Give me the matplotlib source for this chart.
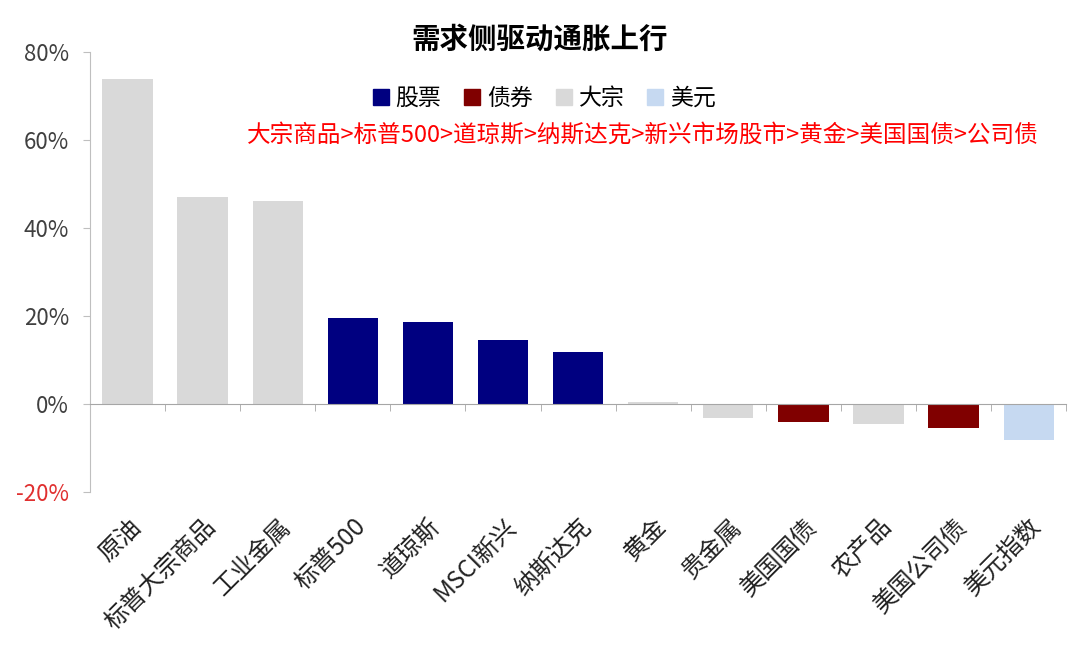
import numpy as np
import matplotlib
matplotlib.use('Agg')
import matplotlib.pyplot as plt
import matplotlib.transforms as mtransforms
from matplotlib.patches import Patch

plt.rcParams['font.family'] = ['Noto Sans CJK SC', 'DejaVu Sans']

labels = ['原油', '标普大宗商品', '工业金属', '标普500', '道琼斯', 'MSCI新兴', '纳斯达克',
          '黄金', '贵金属', '美国国债', '农产品', '美国公司债', '美元指数']
values = [73.9, 47.0, 46.1, 19.5, 18.6, 14.5, 11.8, 0.4, -3.2, -4.1, -4.5, -5.5, -8.2]
groups = ['大宗', '大宗', '大宗', '股票', '股票', '股票', '股票',
          '大宗', '大宗', '债券', '大宗', '债券', '美元']

colors = {'股票': '#000080', '债券': '#800000', '大宗': '#d9d9d9', '美元': '#c6d9f1'}
order = ['股票', '债券', '大宗', '美元']

fig = plt.figure(figsize=(10.8, 6.64), dpi=100)
ax = fig.add_axes([0.0833, 0.259, 0.904, 0.663])

x = np.arange(len(labels))
ax.bar(x, values, width=0.67, color=[colors[g] for g in groups], zorder=2)

ax.set_xlim(-0.5, len(labels) - 0.5)
ax.set_ylim(-20, 80)
ax.set_yticks([-20, 0, 20, 40, 60, 80])
ax.set_yticklabels(['-20%', '0%', '20%', '40%', '60%', '80%'])
ax.tick_params(axis='y', colors='#bfbfbf', labelcolor='#404040', labelsize=16,
               length=5, pad=10)
for t in ax.get_yticklabels():
    if t.get_text().startswith('-'):
        t.set_color('#e03030')

for s in ['top', 'right']:
    ax.spines[s].set_visible(False)
ax.spines['left'].set_color('#bfbfbf')
ax.spines['bottom'].set_position(('data', 0))
ax.spines['bottom'].set_color('#a6a6a6')
ax.spines['bottom'].set_zorder(3)

ax.set_xticks(x)
ax.set_xticklabels(labels, rotation=45, ha='right', rotation_mode='anchor', fontsize=17.5,
                   color='#222222')
shift = mtransforms.ScaledTranslation(-0.06, 0, fig.dpi_scale_trans)
for t in ax.get_xticklabels():
    t.set_transform(t.get_transform() + shift)
ax.set_xticks(np.arange(len(labels) + 1) - 0.5, minor=True)
ax.tick_params(axis='x', which='major', length=0, pad=79)
ax.tick_params(axis='x', which='minor', length=5, color='#a6a6a6', direction='out')

fig.text(0.5, 0.94, '需求侧驱动通胀上行', ha='center', va='center', fontsize=20.5,
         fontweight='bold')

handles = [Patch(color=colors[g]) for g in order]
fig.legend(handles, order, loc='center', bbox_to_anchor=(0.504, 0.852), ncol=4,
           frameon=False, fontsize=16.5, handlelength=0.7, handleheight=0.7,
           handletextpad=0.3, columnspacing=1.0)

fig.text(0.595, 0.797, '大宗商品>标普500>道琼斯>纳斯达克>新兴市场股市>黄金>美国国债>公司债',
         ha='center', va='center', fontsize=17, color='#ff0000')

fig.savefig('out.png', dpi=100)
